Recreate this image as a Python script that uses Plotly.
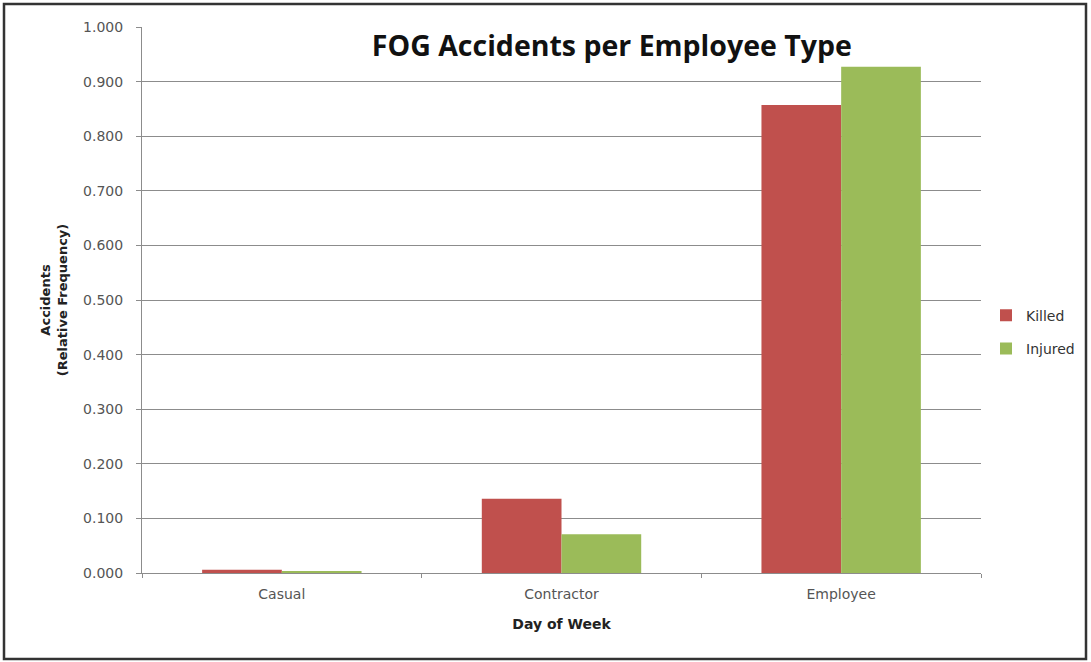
import plotly.graph_objects as go

categories = ["Casual", "Contractor", "Employee"]
killed = [0.006, 0.136, 0.857]
injured = [0.003, 0.071, 0.927]
y_ticks = [0.0, 0.1, 0.2, 0.3, 0.4, 0.5, 0.6, 0.7, 0.8, 0.9, 1.0]

tick_font = dict(family="DejaVu Sans", size=14, color="#555555")

fig = go.Figure()
fig.add_trace(go.Bar(x=categories, y=killed, name="Killed",
                     marker=dict(color="#C0504D", line_width=0), legendgroup="k"))
fig.add_trace(go.Bar(x=categories, y=injured, name="Injured",
                     marker=dict(color="#9BBB59", line_width=0), legendgroup="i"))

fig.update_layout(
    width=1091,
    height=662,
    margin=dict(l=142, r=110, t=27, b=89, autoexpand=False),
    paper_bgcolor="white",
    plot_bgcolor="white",
    barmode="group",
    bargap=0.43,
    bargroupgap=0,
    title=dict(
        text="<b>FOG Accidents per Employee Type</b>",
        font=dict(family="Open Sans", size=28.5, color="#111111"),
        x=0.56, xref="paper", xanchor="center",
        y=1 - 46 / 662, yanchor="middle",
    ),
    xaxis=dict(
        showline=True, linecolor="#8c8c8c", linewidth=1,
        ticks="outside", tickson="boundaries", ticklen=4, tickcolor="#8c8c8c",
        ticklabelstandoff=8,
        tickfont=tick_font,
        title=dict(text="<b>Day of Week</b>",
                   font=dict(family="DejaVu Sans", size=14, color="#222222"), standoff=18),
    ),
    yaxis=dict(
        range=[0, 1.0],
        tickvals=y_ticks,
        tickformat=".3f",
        showline=True, linecolor="#8c8c8c", linewidth=1,
        showgrid=True, gridcolor="#8c8c8c", gridwidth=1,
        ticks="outside", ticklen=5, tickcolor="#8c8c8c",
        ticklabelstandoff=10,
        tickfont=tick_font,
        zeroline=False,
        title=dict(text="<b>Accidents<br>(Relative Frequency)</b>",
                   font=dict(family="DejaVu Sans", size=13, color="#222222"), standoff=12),
    ),
    legend=dict(
        x=(986 - 142) / 839, y=0.441, xanchor="left", yanchor="middle",
        font=dict(family="DejaVu Sans", size=14, color="#333333"),
        tracegroupgap=12, traceorder="grouped",
        itemwidth=30,
    ),
    shapes=[dict(
        type="rect", xref="paper", yref="paper",
        x0=(4 - 142) / 839, x1=(1086 - 142) / 839,
        y0=(573 - 659) / 546, y1=(573 - 4) / 546,
        line=dict(color="#333333", width=2.5),
    )],
)

fig.write_html("out.html", config={"displayModeBar": False},
               post_script="document.body.style.margin='0';")
